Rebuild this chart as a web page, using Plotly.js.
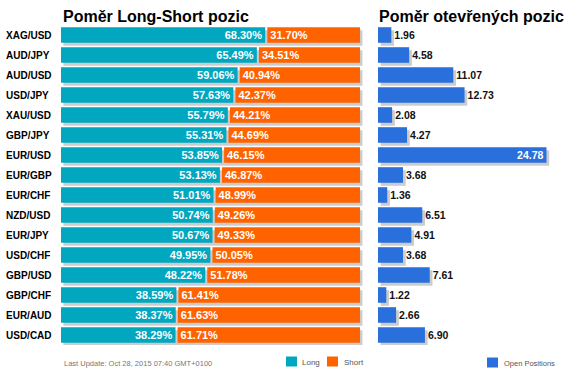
<!DOCTYPE html>
<html>
<head>
<meta charset="utf-8">
<script src="https://cdn.plot.ly/plotly-3.0.1.min.js"></script>
<style>html,body{margin:0;padding:0;background:#fff;}#chart{width:571px;height:377px;}</style>
</head>
<body>
<div id="chart"></div>
<script>
const categories = ["XAG/USD","AUD/JPY","AUD/USD","USD/JPY","XAU/USD","GBP/JPY","EUR/USD","EUR/GBP","EUR/CHF","NZD/USD","EUR/JPY","USD/CHF","GBP/USD","GBP/CHF","EUR/AUD","USD/CAD"];
const longPct = [68.30,65.49,59.06,57.63,55.79,55.31,53.85,53.13,51.01,50.74,50.67,49.95,48.22,38.59,38.37,38.29];
const shortPct = [31.70,34.51,40.94,42.37,44.21,44.69,46.15,46.87,48.99,49.26,49.33,50.05,51.78,61.41,61.63,61.71];
const openPos = [1.96,4.58,11.07,12.73,2.08,4.27,24.78,3.68,1.36,6.51,4.91,3.68,7.61,1.22,2.66,6.90];
const titleLeft = "Poměr Long-Short pozic";
const titleRight = "Poměr otevřených pozic";
const footer = "Last Update: Oct 28, 2015 07:40 GMT+0100";
const legendLabels = ["Long","Short","Open Positions"];

const W = 571, H = 377, MT = 25, MB = 32;
const PH = H - MT - MB;
const px = v => v / W;
const py = v => (H - MB - v) / PH;
const FONT = "Liberation Sans, Arial, sans-serif";
const TEAL = "#01A6BF", ORANGE = "#FF6300", BLUE = "#2A70DC", SHADOW = "#CCCCCC";
const BW = 0.78, GAP = 0.7;
const maxOpen = Math.max(...openPos);

const traces = [
  { type:"bar", orientation:"h", y:categories, x:categories.map(()=>100), base:0.8,
    xaxis:"x", yaxis:"y", width:BW, marker:{color:SHADOW}, hoverinfo:"skip", showlegend:false },
  { type:"bar", orientation:"h", y:categories, x:openPos, base:0.4,
    xaxis:"x2", yaxis:"y", width:BW, marker:{color:SHADOW}, hoverinfo:"skip", showlegend:false },
  { type:"bar", orientation:"h", name:"Long", y:categories, x:longPct, base:0,
    xaxis:"x", yaxis:"y2", width:BW, marker:{color:TEAL},
    text:longPct.map(v=>v.toFixed(2)+"%"), textposition:"inside", insidetextanchor:"end",
    constraintext:"none", textfont:{family:FONT,size:11,color:"#ffffff",weight:"bold"}, showlegend:false },
  { type:"bar", orientation:"h", name:"Short", y:categories, x:shortPct.map(v=>v-GAP), base:longPct.map(v=>v+GAP),
    xaxis:"x", yaxis:"y2", width:BW, marker:{color:ORANGE},
    text:shortPct.map(v=>v.toFixed(2)+"%"), textposition:"inside", insidetextanchor:"start",
    constraintext:"none", textfont:{family:FONT,size:11,color:"#ffffff",weight:"bold"}, showlegend:false },
  { type:"bar", orientation:"h", name:"Open Positions", y:categories, x:openPos, base:0,
    xaxis:"x2", yaxis:"y2", width:BW, marker:{color:BLUE},
    text:openPos.map(v=>v.toFixed(2)), textposition:openPos.map(v=>v/maxOpen>0.8?"inside":"outside"),
    insidetextanchor:"end", constraintext:"none", cliponaxis:false,
    insidetextfont:{family:FONT,size:10.5,color:"#ffffff",weight:"bold"},
    outsidetextfont:{family:FONT,size:10.5,color:"#111111",weight:"bold"}, showlegend:false }
];

const annotations = [
  {text:titleLeft, xref:"paper", yref:"paper", x:px(61), y:py(16), xanchor:"left", yanchor:"middle", showarrow:false,
   font:{family:FONT,size:16,color:"#000",weight:"bold"}},
  {text:titleRight, xref:"paper", yref:"paper", x:px(377), y:py(16), xanchor:"left", yanchor:"middle", showarrow:false,
   font:{family:FONT,size:16,color:"#000",weight:"bold"}},
  {text:footer, xref:"paper", yref:"paper", x:px(62), y:py(363), xanchor:"left", yanchor:"middle", showarrow:false,
   font:{family:FONT,size:7.5,color:"#777"}},
  {text:legendLabels[0], xref:"paper", yref:"paper", x:px(300), y:py(362), xanchor:"left", yanchor:"middle", showarrow:false,
   font:{family:FONT,size:8,color:"#555"}},
  {text:legendLabels[1], xref:"paper", yref:"paper", x:px(342), y:py(362), xanchor:"left", yanchor:"middle", showarrow:false,
   font:{family:FONT,size:8,color:"#555"}},
  {text:legendLabels[2], xref:"paper", yref:"paper", x:px(502), y:py(363), xanchor:"left", yanchor:"middle", showarrow:false,
   font:{family:FONT,size:7.5,color:"#555"}}
].concat(categories.map(c => ({
  text:c, xref:"paper", yref:"y2", x:px(4), y:c, xanchor:"left", yanchor:"middle", showarrow:false,
  font:{family:FONT,size:10,color:"#000",weight:"bold"}
})));

const shapes = [
  {type:"rect", xref:"paper", yref:"paper", x0:px(286), x1:px(297), y0:py(356.5), y1:py(366.5), fillcolor:TEAL, line:{width:0}},
  {type:"rect", xref:"paper", yref:"paper", x0:px(327), x1:px(338), y0:py(356.5), y1:py(366.5), fillcolor:ORANGE, line:{width:0}},
  {type:"rect", xref:"paper", yref:"paper", x0:px(487), x1:px(498), y0:py(357.5), y1:py(367.5), fillcolor:BLUE, line:{width:0}}
];

const hiddenX = {showgrid:false, zeroline:false, showticklabels:false, ticks:"", showline:false, fixedrange:true};
const layout = {
  width:W, height:H, margin:{l:0, r:0, t:MT, b:MB, pad:0},
  paper_bgcolor:"#fff", plot_bgcolor:"rgba(0,0,0,0)",
  barmode:"overlay", showlegend:false,
  xaxis: Object.assign({domain:[px(61), px(366)], range:[0,102], anchor:"y"}, hiddenX),
  xaxis2: Object.assign({domain:[px(378), 1], range:[0, 193/6.8], anchor:"y"}, hiddenX),
  yaxis: {type:"category", categoryorder:"array", categoryarray:categories, range:[15.35,-0.65], anchor:"x",
          showgrid:false, zeroline:false, showticklabels:false, ticks:"", showline:false, fixedrange:true},
  yaxis2: {type:"category", categoryorder:"array", categoryarray:categories, range:[15.5,-0.5], overlaying:"y", anchor:"x",
           showgrid:false, zeroline:false, showticklabels:false, ticks:"", showline:false, fixedrange:true},
  annotations: annotations, shapes: shapes,
  font:{family:FONT}
};
Plotly.newPlot("chart", traces, layout, {displayModeBar:false, staticPlot:true});
</script>
</body>
</html>
